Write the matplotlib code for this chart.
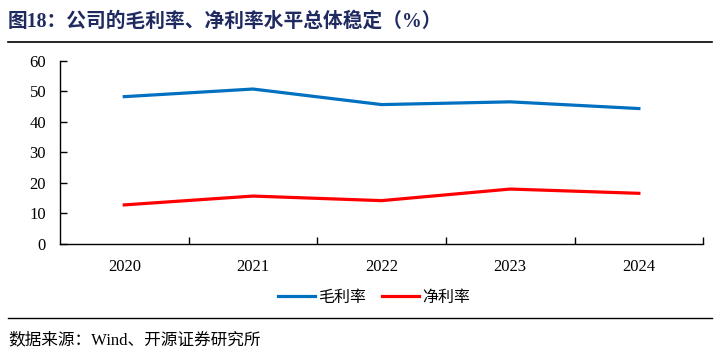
import matplotlib.pyplot as plt
from matplotlib.lines import Line2D

years = ['2020', '2021', '2022', '2023', '2024']
gross_margin = [48.3, 50.8, 45.7, 46.6, 44.4]
net_margin = [12.8, 15.7, 14.2, 18.0, 16.6]

fam = ['Liberation Serif', 'Noto Sans CJK SC']
plt.rcParams['font.family'] = fam

fig = plt.figure(figsize=(7.19, 3.63), dpi=100)
ax = fig.add_axes([0.0834, 0.328, 0.8946, 0.504])

x = list(range(len(years)))
ax.plot(x, gross_margin, color='#0070C0', lw=2.3, label='毛利率')
ax.plot(x, net_margin, color='#FF0000', lw=2.3, label='净利率')

ax.set_xlim(-0.5, len(years) - 0.5)
ax.set_ylim(0, 60)
ax.set_yticks(range(0, 61, 10))
ax.set_xticks(x)
ax.set_xticklabels(years)
ax.set_xticks([i + 0.5 for i in x], minor=True)
ax.tick_params(axis='x', which='major', length=0, pad=11, labelsize=12)
ax.tick_params(axis='x', which='minor', direction='in', length=5, width=1)
ax.tick_params(axis='y', direction='in', length=5, width=1, pad=10, labelsize=12)
for s in ['top', 'right']:
    ax.spines[s].set_visible(False)
for s in ['left', 'bottom']:
    ax.spines[s].set_linewidth(1)

ax.legend(loc='center', ncol=2, frameon=False, fontsize=11.5, handlelength=2.3,
          columnspacing=1.0, handletextpad=0.2)
leg = ax.get_legend()
leg.set_bbox_to_anchor((374 / 719, 1 - 298 / 363), transform=fig.transFigure)

fig.text(8 / 719, 1 - 22 / 363, '图18：公司的毛利率、净利率水平总体稳定（%）', fontsize=14.2,
         fontweight='bold', color='#1F2A60', va='center', ha='left')
fig.add_artist(Line2D([8 / 719, 712 / 719], [1 - 42 / 363] * 2, color='black', lw=1.2))
fig.add_artist(Line2D([8 / 719, 712 / 719], [1 - 318 / 363] * 2, color='black', lw=1))
fig.text(8 / 719, 1 - 340 / 363, '数据来源：Wind、开源证券研究所', fontsize=12,
         va='center', ha='left')

fig.savefig('out.png', dpi=100)
